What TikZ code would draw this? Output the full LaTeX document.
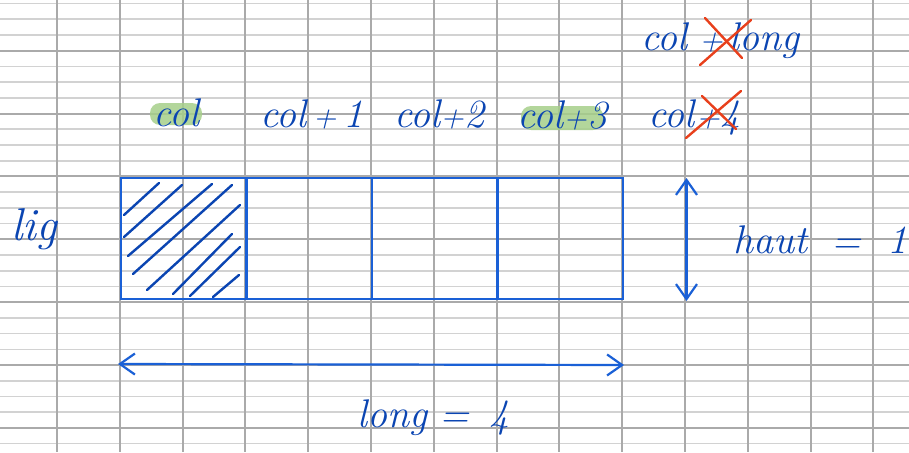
\documentclass[tikz,border=0pt]{standalone}
\usetikzlibrary{arrows.meta}
\definecolor{inkblue}{HTML}{0B45B2}
\definecolor{boxblue}{HTML}{1A60D6}
\definecolor{gridminor}{HTML}{D2D2D2}
\definecolor{gridmajor}{HTML}{AAAAAA}
\definecolor{hlgreen}{HTML}{A6CF8A}
\definecolor{inkred}{HTML}{E8401C}
\newcommand\smallplus{{\fontsize{32pt}{32pt}\selectfont +}}
\begin{document}
\begin{tikzpicture}[x=1pt,y=-1pt,
  lbl/.style={text=inkblue,font=\fontsize{40pt}{40pt}\selectfont\itshape,anchor=base,inner sep=0pt},
  cell/.style={draw=boxblue,line width=2.2pt,minimum width=125.5pt,minimum height=121pt,inner sep=0pt},
  dimarrow/.style={draw=boxblue,line width=2.2pt,line cap=round,{Straight Barb[length=15pt,width=21pt]}-{Straight Barb[length=15pt,width=21pt]}},
  hatch/.style={draw=inkblue,line width=2.4pt,line cap=round},
  cross/.style={draw=inkred,line width=2.4pt,line cap=round},
  hl/.style={fill=hlgreen,opacity=0.85,rounded corners=10pt}]
\useasboundingbox (0,0) rectangle (909,452);
\fill[white] (0,0) rectangle (909,452);
% grid
\foreach \k in {0,...,28} \draw[gridminor,line width=1.6pt] (0,3.5+15.72*\k) -- (909,3.5+15.72*\k);
\foreach \k in {3,7,...,27} \draw[gridmajor,line width=2pt] (0,3.5+15.72*\k) -- (909,3.5+15.72*\k);
\foreach \k in {0,...,13} \draw[gridmajor,line width=2pt] (57+62.8*\k,0) -- (57+62.8*\k,452);
% highlights
\fill[hl] (150,103) rectangle (202,125);
\fill[hl] (521,106) rectangle (603,130);
% cells
\node[cell] (c0) at (183.7,238.5) {};
\node[cell] (c1) at (309.2,238.5) {};
\node[cell] (c2) at (434.7,238.5) {};
\node[cell] (c3) at (560.2,238.5) {};
% hatching
\draw[hatch] (124,215) -- (159,183);
\draw[hatch] (124,237) -- (182,185);
\draw[hatch] (128,256) -- (212,184);
\draw[hatch] (133,274) -- (232,185);
\draw[hatch] (147,290) -- (240,205);
\draw[hatch] (173,294) -- (232,234);
\draw[hatch] (190,296) -- (240,247);
\draw[hatch] (213,297) -- (239,275);
% labels
\node[lbl] (lcol) at (176,126) {col};
\node[lbl] (lcol1) at (312,127) {col\hspace{6pt}\smallplus\hspace{7pt}1};
\node[lbl] (lcol2) at (439,127) {col\hspace{0pt}\smallplus\hspace{0pt}2};
\node[lbl] (lcol3) at (562,128) {col\hspace{0pt}\smallplus\hspace{0pt}3};
\node[lbl] (lcol4) at (694,127) {col\hspace{2pt}\smallplus\hspace{0pt}4};
\node[lbl,anchor=base west] (lcollong) at (641,50) {col\hspace{12pt}\smallplus\hspace{6pt}long};
\node[lbl,font=\fontsize{46pt}{46pt}\selectfont\itshape] (llig) at (34,240) {lig};
\node[lbl,anchor=base west] (lhaut) at (733,253) {haut\hspace{24pt}=\hspace{26pt}1};
\node[lbl] (llong) at (433,427) {long\hspace{12pt}=\hspace{20pt}4};
% crosses
\draw[cross] (686,138) -- (741,91);
\draw[cross] (702,96) -- (736,129);
\draw[cross] (700,65) -- (751,20);
\draw[cross] (705,18) -- (742,58);
% dimension arrows
\coordinate (vt) at (686.5,178);
\coordinate (vb) at (686.5,301);
\coordinate (hl) at (118,364);
\coordinate (hr) at (624,365);
\draw[dimarrow] (vt) -- (vb);
\draw[dimarrow] (hl) -- (hr);
\end{tikzpicture}
\end{document}
